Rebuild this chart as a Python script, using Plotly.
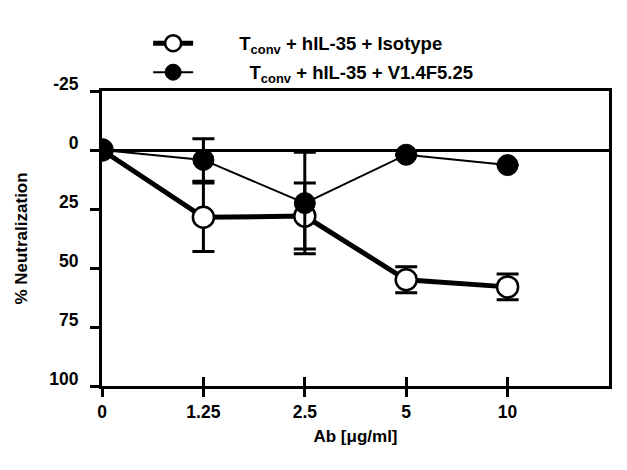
import plotly.graph_objects as go

doses = ["0", "1.25", "2.5", "5", "10"]
iso_mean = [0, 28.5, 28, 55, 58]
iso_err = [0, 14.5, 14, 5.5, 5.5]
v14_mean = [0, 4.2, 22.5, 2, 6.4]
v14_err = [0, 9, 21.5, 0, 0]

iso_name = "&nbsp;" * 8 + "T<sub>conv</sub> + hIL-35 + Isotype"
v14_name = "&nbsp;" * 10 + "T<sub>conv</sub> + hIL-35 + V1.4F5.25"
yticks = [-25, 0, 25, 50, 75, 100]

FONT = "Arial, Liberation Sans, sans-serif"
TICK = 17.5
TITLE = 17

fig = go.Figure()
fig.add_trace(go.Scatter(
    x=doses, y=iso_mean, name=iso_name, mode="lines+markers", legendgroup="a",
    line=dict(color="black", width=5),
    marker=dict(symbol="circle", size=21, color="white", line=dict(color="black", width=2.5)),
    error_y=dict(type="data", array=iso_err, visible=True, color="black", thickness=3, width=11),
))
fig.add_trace(go.Scatter(
    x=doses, y=v14_mean, name=v14_name, mode="lines+markers", legendgroup="b",
    line=dict(color="black", width=2),
    marker=dict(symbol="circle", size=21, color="black", line=dict(color="black", width=1)),
    error_y=dict(type="data", array=v14_err, visible=True, color="black", thickness=3, width=11),
))
# invisible trace on overlay axis to carry inward x ticks
fig.add_trace(go.Scatter(x=doses, y=[None]*len(doses), xaxis="x2", showlegend=False, hoverinfo="skip"))

fig.update_layout(
    width=619, height=462,
    margin=dict(l=94, r=18, t=83, b=84),
    paper_bgcolor="white", plot_bgcolor="white",
    font=dict(family=FONT, color="black", size=16, weight="bold"),
    showlegend=True,
    legend=dict(x=0.091, y=1.225, xanchor="left", yanchor="top",
                font=dict(family=FONT, size=18.5, color="black", weight="bold"),
                itemwidth=40, tracegroupgap=2, traceorder="grouped",
                bgcolor="rgba(0,0,0,0)"),
    xaxis=dict(type="category", range=[0, 5], showline=True, linecolor="black", linewidth=3,
               mirror=True, ticks="outside", ticklen=8, tickwidth=3, tickcolor="black",
               showgrid=False, zeroline=False,
               tickfont=dict(family=FONT, size=TICK, weight="bold"),
               title=dict(text="Ab [μg/ml]", standoff=10,
                          font=dict(family=FONT, size=TITLE, weight="bold"))),
    xaxis2=dict(type="category", range=[0, 5], overlaying="x", side="bottom", anchor="y",
                showline=False, ticks="inside", ticklen=9, tickwidth=3, tickcolor="black",
                showticklabels=False, showgrid=False, zeroline=False),
    yaxis=dict(range=[100, -25], tickvals=yticks, ticktext=[str(v) for v in yticks],
               showline=True, linecolor="black", linewidth=3, mirror=True,
               ticks="outside", ticklen=9, tickwidth=3, tickcolor="black",
               ticklabelstandoff=8, ticklabelshift=7,
               showgrid=False, zeroline=True, zerolinecolor="black", zerolinewidth=3,
               tickfont=dict(family=FONT, size=TICK, weight="bold"),
               title=dict(text="% Neutralization", standoff=18,
                          font=dict(family=FONT, size=TITLE, weight="bold"))),
)

fig.write_html("out.html")
